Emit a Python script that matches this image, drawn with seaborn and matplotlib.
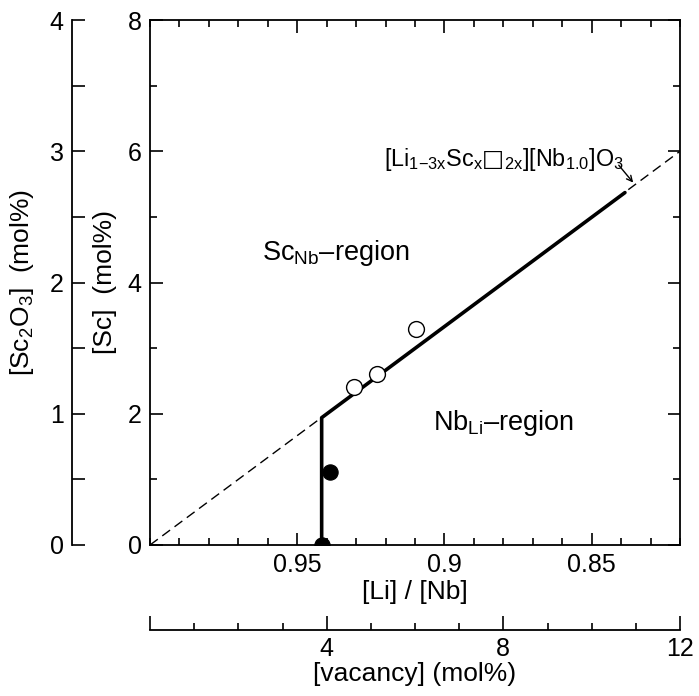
import numpy as np
import pandas as pd
import matplotlib
matplotlib.use("Agg")
import matplotlib.pyplot as plt
from matplotlib.ticker import MultipleLocator, FixedLocator, FixedFormatter
import seaborn as sns

# data
ideal_x = [1.0, 0.82]            # [Li]/[Nb] along the ideal Li-vacancy line
ideal_sc = [0.0, 6.0]
bound_x = [0.9417, 0.9417, 0.8387]   # phase boundary (solid)
bound_sc = [0.0, 1.94, 5.37]
open_x = [0.9307, 0.9229, 0.9096]    # Sc_Nb samples
open_sc = [2.41, 2.61, 3.29]
filled_x = [0.9389, 0.9416]          # Nb_Li samples
filled_sc = [1.11, 0.0]

sns.set_style("ticks")
plt.rcParams['font.family'] = ['Liberation Sans', 'DejaVu Sans']
plt.rcParams['mathtext.fontset'] = 'custom'
plt.rcParams['mathtext.rm'] = 'Liberation Sans'
plt.rcParams['mathtext.it'] = 'Liberation Sans'
plt.rcParams['mathtext.sf'] = 'DejaVu Sans'
plt.rcParams['axes.linewidth'] = 1.3
for k in ['text.color', 'axes.labelcolor', 'xtick.color', 'ytick.color', 'axes.edgecolor']:
    plt.rcParams[k] = 'black'

W, H = 699, 696
fig = plt.figure(figsize=(W / 100, H / 100), dpi=100)
L, R, T, B = 150 / W, 680 / W, 1 - 20 / H, 1 - 545 / H
ax = fig.add_axes([L, B, R - L, T - B])

sns.lineplot(x=ideal_x, y=ideal_sc, ax=ax, color='black', lw=1.0,
             linestyle=(0, (7, 4)), sort=False, estimator=None)
sns.lineplot(x=bound_x, y=bound_sc, ax=ax, color='black', lw=2.6,
             sort=False, estimator=None)
sns.scatterplot(x=open_x, y=open_sc, ax=ax, s=130, facecolor='white',
                edgecolor='black', linewidth=1.0, zorder=5)
sns.scatterplot(x=filled_x, y=filled_sc, ax=ax, s=120, color='black',
                edgecolor='black', zorder=5)

ax.set_xlim(1.0, 0.82)
ax.set_ylim(0, 8)
ax.xaxis.set_major_locator(FixedLocator([0.95, 0.9, 0.85]))
ax.xaxis.set_major_formatter(FixedFormatter(['0.95', '0.9', '0.85']))
ax.xaxis.set_minor_locator(MultipleLocator(0.01))
ax.yaxis.set_major_locator(MultipleLocator(2))
ax.yaxis.set_minor_locator(MultipleLocator(1))
ax.tick_params(which='both', direction='in', top=True, right=True,
               labelsize=18, width=1.2)
ax.tick_params(which='major', length=9, pad=6)
ax.tick_params(which='minor', length=5)
ax.set_xlabel('[Li] / [Nb]', fontsize=19, labelpad=2)
ax.set_ylabel('[Sc]  (mol%)', fontsize=19, labelpad=8)

ax.text(0.962, 4.45, 'Sc$_{\\mathrm{Nb}}$\u2013region', fontsize=19.5, va='center')
ax.text(0.9039, 1.86, 'Nb$_{\\mathrm{Li}}$\u2013region', fontsize=19.5, va='center')
ax.text(0.9205, 5.87,
        '[Li$_{1\\mathrm{-}3\\mathrm{x}}$Sc$_\\mathrm{x}\\mathsf{\u25a1}_{2\\mathrm{x}}$][Nb$_{1.0}$]O$_3$',
        fontsize=16.8, va='center')
ax.annotate('', xy=(0.8353, 5.49), xytext=(0.8414, 5.82),
            arrowprops=dict(arrowstyle='->', color='black', lw=1.0))

# secondary [Sc2O3] axis on the left
ax2 = fig.add_axes([72 / W, B, 0.001, T - B])
ax2.set_ylim(0, 4)
ax2.set_xticks([])
for k in ['top', 'right', 'bottom']:
    ax2.spines[k].set_visible(False)
ax2.yaxis.set_major_locator(MultipleLocator(1))
ax2.yaxis.set_minor_locator(MultipleLocator(0.5))
ax2.tick_params(axis='y', which='both', direction='in', labelsize=18, width=1.2)
ax2.tick_params(axis='y', which='major', length=9, pad=6)
ax2.tick_params(axis='y', which='minor', length=9)
ax2.set_ylabel('[Sc$_2$O$_3$]  (mol%)', fontsize=19, labelpad=10)
ax2.patch.set_visible(False)

# secondary vacancy axis at the bottom
ax3 = fig.add_axes([L, 1 - 630 / H, R - L, 0.001])
ax3.set_xlim(0, 12)
ax3.set_yticks([])
for k in ['top', 'right', 'left']:
    ax3.spines[k].set_visible(False)
ax3.xaxis.set_major_locator(FixedLocator([0, 4, 8, 12]))
ax3.xaxis.set_major_formatter(FixedFormatter(['', '4', '8', '12']))
ax3.xaxis.set_minor_locator(MultipleLocator(1))
ax3.tick_params(axis='x', which='both', direction='in', labelsize=18, width=1.2)
ax3.tick_params(axis='x', which='major', length=10, pad=5)
ax3.tick_params(axis='x', which='minor', length=5)
ax3.set_xlabel('[vacancy] (mol%)', fontsize=19, labelpad=1)
ax3.patch.set_visible(False)

fig.savefig('out.png', dpi=100)
